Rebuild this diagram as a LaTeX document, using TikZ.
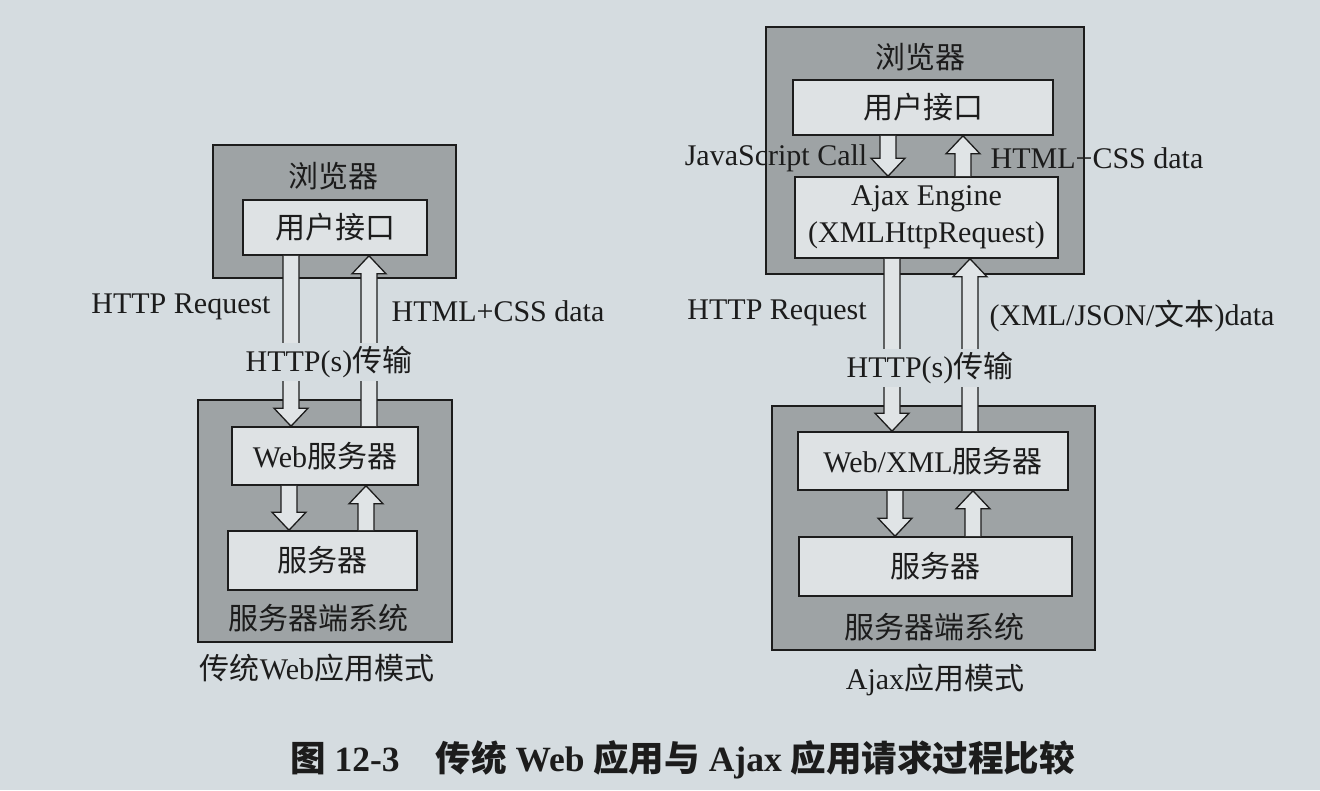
\documentclass[tikz,border=0pt]{standalone}
\usepackage{fontspec}
\setmainfont{Liberation Serif}
\newfontfamily\cjk{Noto Sans CJK SC}
\usetikzlibrary{calc}
\definecolor{pagebg}{HTML}{D5DCE0}
\definecolor{outgray}{HTML}{9EA3A5}
\definecolor{infill}{HTML}{DEE2E4}
\definecolor{arrfill}{HTML}{E0E4E6}
\definecolor{ink}{HTML}{1C1C1C}
\tikzset{
  outbox/.style={draw=ink, line width=1.6pt, fill=outgray, inner sep=0pt},
  inbox/.style={draw=ink, line width=1.6pt, fill=infill, inner sep=0pt, text=ink, font=\fontsize{30}{37}\selectfont, align=center},
  lbl/.style={text=ink, font=\fontsize{30}{37}\selectfont, inner sep=0pt},
  trlbl/.style={text=ink, font=\fontsize{30}{37}\selectfont, fill=pagebg, inner sep=3pt},
  hollow/.style={draw=ink, line width=1.3pt, fill=arrfill, line join=miter},
  captionstyle/.style={text=ink, font=\fontsize{35.5}{40}\selectfont\bfseries, inner sep=0pt, anchor=west}
}
\newcommand\arrdown[2]{\draw[hollow] let \p1=(#1), \p2=(#2) in (\x1-8pt,\y1) -- (\x1-8pt,\y2+18pt) -- (\x1-17pt,\y2+18pt) -- (\x1,\y2) -- (\x1+17pt,\y2+18pt) -- (\x1+8pt,\y2+18pt) -- (\x1+8pt,\y1);}
\newcommand\arrup[2]{\draw[hollow] let \p1=(#1), \p2=(#2) in (\x1-8pt,\y1) -- (\x1-8pt,\y2-18pt) -- (\x1-17pt,\y2-18pt) -- (\x1,\y2) -- (\x1+17pt,\y2-18pt) -- (\x1+8pt,\y2-18pt) -- (\x1+8pt,\y1);}
\begin{document}
\begin{tikzpicture}[x=1pt,y=-1pt]
\fill[pagebg] (0,0) rectangle (1320,790);
\useasboundingbox (0,0) rectangle (1320,790);

% ---------- left: traditional web ----------
\node[outbox, minimum width=243, minimum height=133] (b1) at (334.5,211.5) {};
\node[lbl] (lb1) at (333,176) {\cjk 浏览器};
\node[inbox, minimum width=184, minimum height=55] (ui1) at (335,227.5) {\cjk 用户接口};
\node[outbox, minimum width=254, minimum height=242] (s1) at (325,521) {};
\node[inbox, minimum width=186, minimum height=58] (web1) at (325,456) {Web{\cjk 服务器}};
\node[inbox, minimum width=189, minimum height=59] (srv1) at (322.5,560.5) {\cjk 服务器};
\node[lbl] (sys1) at (318,618) {\cjk 服务器端系统};
\node[lbl] (cap1) at (317,668) {{\cjk 传统}Web{\cjk 应用模式}};

\arrdown{$(ui1.south)+(-44,0)$}{web1.north}
\arrup{$(web1.north)+(44,0)$}{ui1.south}
\arrdown{$(web1.south)+(-36,0)$}{srv1.north}
\arrup{$(srv1.north)+(43.5,0)$}{web1.south}

\node[lbl] (req1) at (181,307) {HTTP Request};
\node[lbl] (data1) at (498,311) {HTML+CSS data};
\node[trlbl] (tr1) at (329,362) {HTTP(s){\cjk 传输}};

% ---------- right: Ajax ----------
\node[outbox, minimum width=318, minimum height=247] (b2) at (925,150.5) {};
\node[lbl] (lb2) at (920,57) {\cjk 浏览器};
\node[inbox, minimum width=260, minimum height=55] (ui2) at (923,107.5) {\cjk 用户接口};
\node[inbox, minimum width=263, minimum height=81] (ajax) at (926.5,217.5) {Ajax Engine\\(XMLHttpRequest)};
\node[outbox, minimum width=323, minimum height=244] (s2) at (933.5,528) {};
\node[inbox, minimum width=270, minimum height=58] (wx) at (933,461) {Web/XML{\cjk 服务器}};
\node[inbox, minimum width=273, minimum height=59] (srv2) at (935.5,566.5) {\cjk 服务器};
\node[lbl] (sys2) at (934,627) {\cjk 服务器端系统};
\node[lbl] (cap2) at (935,680) {Ajax{\cjk 应用模式}};

\arrdown{$(ui2.south)+(-35,0)$}{ajax.north}
\arrup{$(ajax.north)+(36.5,0)$}{ui2.south}
\arrdown{$(ajax.south)+(-34.5,0)$}{wx.north}
\arrup{$(wx.north)+(37,0)$}{ajax.south}
\arrdown{$(wx.south)+(-38,0)$}{srv2.north}
\arrup{$(srv2.north)+(37.5,0)$}{wx.south}

\node[lbl] (js) at (776,158) {JavaScript Call};
\node[lbl] (data2) at (1097,158) {HTML+CSS data};
\node[lbl] (req2) at (777,313) {HTTP Request};
\node[lbl] (data3) at (1132,316) {(XML/JSON/{\cjk 文本})data};
\node[trlbl] (tr2) at (930,368) {HTTP(s){\cjk 传输}};

% ---------- caption ----------
\node[captionstyle] (cap) at (290,760) {{\cjk 图} 12-3\hspace{36pt}{\cjk 传统} Web {\cjk 应用与} Ajax {\cjk 应用请求过程比较}};
\end{tikzpicture}
\end{document}
